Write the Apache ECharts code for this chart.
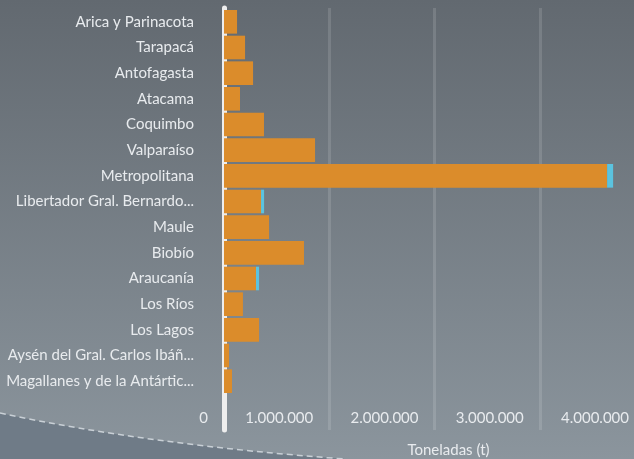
<!DOCTYPE html>
<html>
<head>
<meta charset="utf-8">
<script src="https://cdn.jsdelivr.net/npm/echarts@6/dist/echarts.min.js"></script>
<style>
  html, body { margin: 0; padding: 0; }
  #chart { width: 634px; height: 459px; }
</style>
</head>
<body>
<div id="chart"></div>
<script>
// Regiones (etiquetas tal como se muestran en el eje)
const regiones = [
  'Arica y Parinacota',
  'Tarapacá',
  'Antofagasta',
  'Atacama',
  'Coquimbo',
  'Valparaíso',
  'Metropolitana',
  'Libertador Gral. Bernardo...',
  'Maule',
  'Biobío',
  'Araucanía',
  'Los Ríos',
  'Los Lagos',
  'Aysén del Gral. Carlos Ibáñ...',
  'Magallanes y de la Antártic...'
];

// Toneladas por región, componente principal (naranja)
const toneladasPrincipal = [
  124000, 200000, 276000, 152000, 380000, 865000, 3640000,
  352000, 428000, 760000, 304000, 180000, 333000, 48000, 76000
];

// Toneladas por región, componente secundaria (celeste)
const toneladasSecundaria = [
  0, 0, 0, 0, 0, 0, 57000,
  29000, 0, 0, 29000, 0, 0, 0, 0
];

// Marcas del eje de toneladas
const ejeMin = 0;
const ejeMax = 4000000;
const ejeIntervalo = 1000000;

const FONT = 'Lato';
const TEXT = '#e8ebee';
const GRID_LINE = 'rgba(255,255,255,0.13)';

function miles(v) {
  return String(Math.round(v)).replace(/\B(?=(\d{3})+(?!\d))/g, '.');
}

// Curva decorativa inferior (Bézier cuadrática)
const curva = { x1: 0, y1: 413, cpx1: 150, cpy1: 445, x2: 345, y2: 459 };
function puntosCurva(c, n) {
  const pts = [];
  for (let i = 0; i <= n; i++) {
    const t = i / n, u = 1 - t;
    pts.push([
      u * u * c.x1 + 2 * u * t * c.cpx1 + t * t * c.x2,
      u * u * c.y1 + 2 * u * t * c.cpy1 + t * t * c.y2
    ]);
  }
  return pts;
}
const zonaOscura = puntosCurva(curva, 40).concat([[0, 459]]);

const chart = echarts.init(document.getElementById('chart'), null, { renderer: 'canvas' });

chart.setOption({
  animation: false,
  graphic: [
    {
      type: 'rect', z: -20, silent: true,
      shape: { x: 0, y: 0, width: 634, height: 459 },
      style: {
        fill: {
          type: 'linear', x: 0, y: 0, x2: 0, y2: 1,
          colorStops: [
            { offset: 0, color: '#626970' },
            { offset: 1, color: '#8b959d' }
          ]
        }
      }
    },
    {
      type: 'polygon', z: -19, silent: true,
      shape: { points: zonaOscura },
      style: { fill: '#6f7b87' }
    },
    {
      type: 'bezierCurve', z: -18, silent: true,
      shape: curva,
      style: { fill: null, stroke: '#c9d0d6', lineWidth: 1.5, lineDash: [6, 4] }
    }
  ],
  grid: [
    // área de las barras
    { left: 224, width: 421, top: 9, bottom: 65, containLabel: false, outerBoundsMode: 'none' },
    // rejilla y eje cero, prolongados bajo las etiquetas
    { left: 224, width: 421, top: 8, bottom: 29, containLabel: false, outerBoundsMode: 'none' }
  ],
  xAxis: [
    {
      gridIndex: 0,
      type: 'value',
      min: ejeMin, max: ejeMax, interval: ejeIntervalo,
      axisLine: { show: false },
      axisTick: { show: false },
      splitLine: { show: false },
      axisLabel: {
        show: true,
        formatter: miles,
        color: TEXT,
        fontFamily: FONT,
        fontSize: 15,
        align: 'right',
        padding: [0, 16, 0, 0],
        margin: 17,
        showMaxLabel: true
      },
      name: 'Toneladas (t)',
      nameLocation: 'middle',
      nameGap: 49,
      nameTextStyle: { color: TEXT, fontFamily: FONT, fontSize: 15, padding: [0, 0, 0, 28] }
    },
    {
      gridIndex: 1,
      type: 'value',
      min: ejeMin, max: ejeMax, interval: ejeIntervalo,
      axisLine: { show: false },
      axisTick: { show: false },
      axisLabel: { show: false },
      splitLine: { show: true, showMinLine: false, lineStyle: { color: GRID_LINE, width: 3 } }
    }
  ],
  yAxis: [
    {
      gridIndex: 0,
      type: 'category',
      data: regiones,
      inverse: true,
      axisLine: { show: false },
      axisTick: { show: false },
      splitLine: { show: false },
      axisLabel: {
        color: TEXT,
        fontFamily: FONT,
        fontSize: 15,
        margin: 30
      }
    },
    {
      gridIndex: 1,
      type: 'category',
      data: [''],
      offset: 3.5,
      axisLine: { show: true, lineStyle: { color: '#eeeeee', width: 5 } },
      axisTick: { show: false },
      axisLabel: { show: false },
      splitLine: { show: false }
    }
  ],
  series: [
    {
      name: 'principal',
      type: 'bar',
      stack: 'total',
      xAxisIndex: 0, yAxisIndex: 0,
      data: toneladasPrincipal,
      barCategoryGap: '8%',
      itemStyle: { color: '#db8c2b' }
    },
    {
      name: 'secundaria',
      type: 'bar',
      stack: 'total',
      xAxisIndex: 0, yAxisIndex: 0,
      data: toneladasSecundaria,
      barCategoryGap: '8%',
      itemStyle: { color: '#5bc3df' }
    }
  ]
});
</script>
</body>
</html>
